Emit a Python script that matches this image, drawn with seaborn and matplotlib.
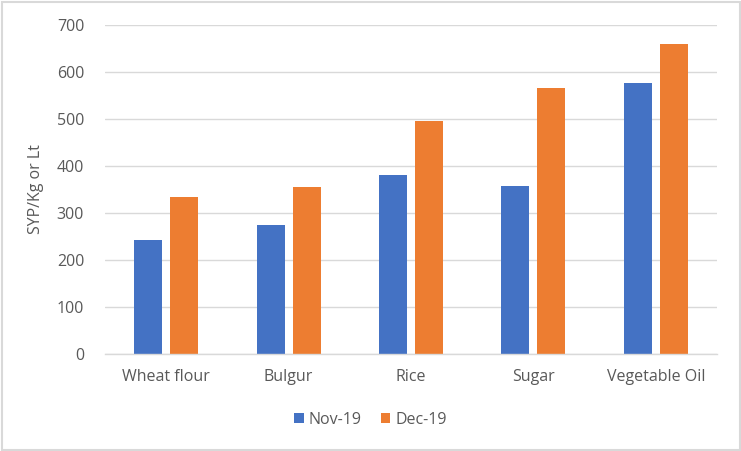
import matplotlib
matplotlib.use("Agg")
import matplotlib.pyplot as plt
import seaborn as sns
import pandas as pd
from matplotlib.patches import Rectangle

categories = ["Wheat flour", "Bulgur", "Rice", "Sugar", "Vegetable Oil"]
nov_19 = [242, 274, 381, 358, 576]
dec_19 = [333, 356, 495, 567, 659]
series_names = ["Nov-19", "Dec-19"]
y_ticks = [0, 100, 200, 300, 400, 500, 600, 700]

df = pd.DataFrame({
    "Item": categories * 2,
    "Series": [series_names[0]] * len(categories) + [series_names[1]] * len(categories),
    "Value": nov_19 + dec_19,
})

sns.set_theme(style="white")
plt.rcParams["font.family"] = ["Open Sans", "DejaVu Sans"]

fig = plt.figure(figsize=(7.41, 4.51), dpi=100)
ax = fig.add_axes([105 / 741, 1 - 354 / 451, 612 / 741, 329 / 451])

palette = {"Nov-19": "#4472C4", "Dec-19": "#ED7D31"}
sns.barplot(data=df, x="Item", y="Value", hue="Series", palette=palette,
            width=0.588, gap=0.222, ax=ax, saturation=1, linewidth=0,
            edgecolor="none")

ax.set_ylim(0, 700)
ax.set_xlim(-0.5, 4.5)
ax.set_yticks(y_ticks)
ax.set_yticklabels([str(t) for t in y_ticks])
ax.yaxis.grid(True, color="#D9D9D9", linewidth=1)
ax.set_axisbelow(True)
for s in ["top", "right", "left"]:
    ax.spines[s].set_visible(False)
ax.spines["bottom"].set_color("#D9D9D9")
ax.spines["bottom"].set_linewidth(1)
ax.tick_params(axis="both", length=0, colors="#595959", labelsize=11.5)
ax.tick_params(axis="x", pad=11)
ax.tick_params(axis="y", pad=15)
ax.set_xlabel("")
ax.set_ylabel("SYP/Kg or Lt", color="#595959", fontsize=11.5, labelpad=9)

handles, labels = ax.get_legend_handles_labels()
ax.get_legend().remove()
fig.legend(handles, labels, loc="center", bbox_to_anchor=(0.5, 1 - 420 / 451),
           ncol=2, frameon=False, fontsize=11.5, handlelength=0.6, handleheight=0.6,
           handletextpad=0.3, columnspacing=1.2, labelcolor="#595959")

fig.patches.append(Rectangle((1.5 / 741, 1.5 / 451), 1 - 3 / 741, 1 - 3 / 451,
                             transform=fig.transFigure, fill=False,
                             edgecolor="#D9D9D9", linewidth=1.5))

fig.savefig("out.png", dpi=100)
